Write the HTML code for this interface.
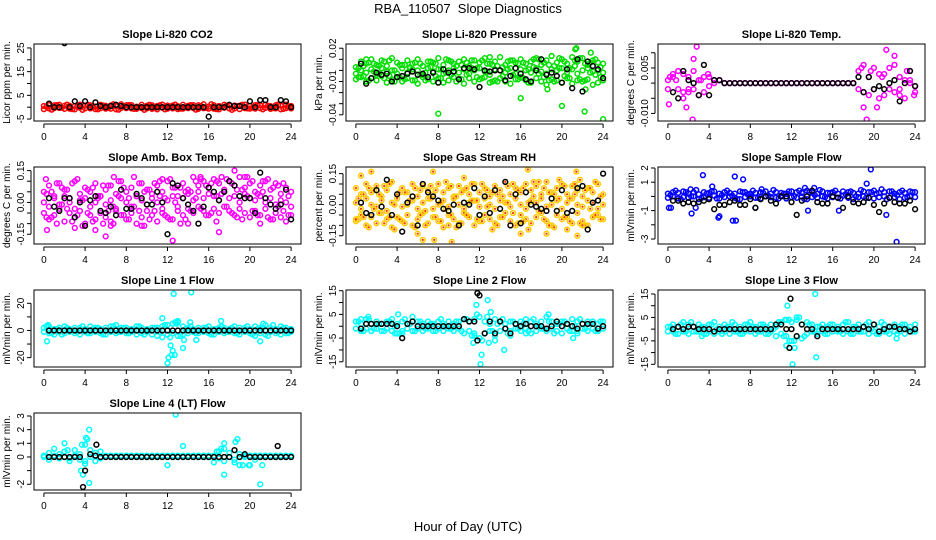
<!DOCTYPE html>
<html><head><meta charset="utf-8"><title>RBA_110507 Slope Diagnostics</title>
<style>
html,body{margin:0;padding:0;background:#fff;}
svg{display:block;font-family:"Liberation Sans",sans-serif;}
</style></head>
<body>
<svg id="chart" width="936" height="540" viewBox="0 0 936 540" xmlns="http://www.w3.org/2000/svg">
<rect x="0" y="0" width="936" height="540" fill="#fff"/>
<text x="468" y="13" text-anchor="middle" font-size="13">RBA_110507&#160;&#160;Slope Diagnostics</text>
<text x="468" y="531" text-anchor="middle" font-size="13">Hour of Day (UTC)</text>
</svg>
<script>
// ---- data (hours on x) ----
const xTicks = [0,4,8,12,16,20,24];
const titles = ["Slope Li-820 CO2","Slope Li-820 Pressure","Slope Li-820 Temp.","Slope Amb. Box Temp.","Slope Gas Stream RH","Slope Sample Flow","Slope Line 1 Flow","Slope Line 2 Flow","Slope Line 3 Flow","Slope Line 4 (LT) Flow"];
const yLabels = ["Licor ppm per min.","kPa per min.","degrees C per min.","degrees C per min.","percent per min.","mlVmin per min.","mlVmin per min.","mlVmin per min.","mlVmin per min.","mlVmin per min."];

const co2A = [0.5,-0.5,0.8,-0.3,0.6,-0.6,0.4,-0.2,0.7,-0.5,0.3,-0.4,0.6,-0.6,0.5,-0.3,0.8,-0.5,0.2,-0.4,0.6,-0.7,0.5,-0.2,0.7,-0.5,0.4,-0.6,0.6,-0.3,0.8,-0.4,0.3,-0.6,0.5,-0.2,0.7,-0.5,0.6,-0.4,0.5,-0.6,0.8,-0.3,0.4,-0.5,0.7,-0.4,0.5];
const co2B = [-0.8,0.9,-0.4,1.0,-0.7,0.6,-0.9,1.1,-0.5,0.8,-0.8,1.0,-0.6,0.7,-0.9,1.2,-0.4,0.9,-0.7,1.0,-0.5,0.8,-0.9,1.1,-0.6,0.7,-0.8,1.0,-0.4,0.9,-0.7,1.2,-0.6,0.8,-0.9,1.0,-0.5,0.7,-0.8,1.1,-0.6,0.9,-0.4,1.0,-0.7,0.8,-0.9,1.1,-0.5];
const co2D = [0.2,-1.0,0.9,-0.2,1.1,-0.8,0.3,-1.1,1.0,0.0,-0.9,0.7,-0.3,1.2,-1.0,0.4,0.9,-0.7,0.1,-1.1,1.0,-0.4,0.8,-0.9,0.2,1.1,-0.6,-0.1,0.9,-1.0,0.5,-0.3,1.2,-0.8,0.0,0.7,-1.1,0.4,1.0,-0.5,-0.2,0.9,-0.9,0.6,-0.4,1.1,-0.7,0.3];
const co2Black = [1.5,0,0,27,0,2.5,0.5,2.5,0,2,0.5,0,0.5,1,0.5,0, 0,0,0,0,0,0,0,0,0,0,0,0,0,0,0, -4,0,0,0,1,0.5,0.5,0,2.5,0,3,3,0,0,3,2.5,0];

const prA = [0.003,0.008,0.006,0.010,0.005,0.009,0.004,0.011,0.007,0.005,0.009,0.006,0.010,0.004,0.008,0.007,0.011,0.005,0.009,0.006,0.008,0.010,0.004,0.009,0.007,0.011,0.006,0.008,0.012,0.005,0.009,0.007,0.010,0.006,0.008,0.011,0.005,0.009,0.013,0.007,0.010,0.006,0.012,0.008,0.011,0.005,0.009,0.007,0.006];
const prB = [-0.003,0.000,-0.002,0.001,-0.004,0.002,-0.001,0.000,-0.003,0.002,-0.002,0.001,0.000,-0.004,0.002,-0.001,0.001,-0.003,0.000,0.002,-0.002,0.001,-0.003,0.000,0.002,-0.001,-0.004,0.001,0.000,-0.002,0.002,-0.003,0.001,0.000,-0.002,0.002,-0.001,-0.003,0.001,0.000,0.002,-0.002,0.001,-0.003,0.000,0.002,-0.001,0.000,-0.002];
const prC = [-0.008,-0.006,-0.010,-0.007,-0.009,-0.005,-0.011,-0.008,-0.006,-0.010,-0.007,-0.009,-0.012,-0.006,-0.008,-0.010,-0.007,-0.011,-0.009,-0.006,-0.008,-0.012,-0.007,-0.010,-0.008,-0.006,-0.011,-0.009,-0.007,-0.010,-0.012,-0.008,-0.006,-0.009,-0.011,-0.007,-0.010,-0.013,-0.008,-0.009,-0.011,-0.007,-0.012,-0.009,-0.010,-0.008,-0.013,-0.011,-0.009];
const prD = [0.002,-0.005,0.007,-0.001,0.004,-0.007,0.009,0.000,-0.006,0.005,0.003,-0.009,0.006,-0.002,0.008,-0.005,0.001,0.010,-0.004,0.004,-0.008,0.007,0.002,-0.006,0.009,-0.001,0.005,-0.010,0.003,0.008,-0.004,0.006,-0.007,0.001,0.010,-0.003,0.007,-0.009,0.004,0.011,-0.005,0.002,0.009,-0.008,0.006,-0.002,0.010,-0.006];
const prE = [-0.006,0.004,-0.009,0.006,-0.003,0.008,-0.005,-0.010,0.005,-0.008,0.002,0.007,-0.004,-0.009,0.003,0.006,-0.007,-0.002,0.008,-0.010,0.005,-0.004,0.009,0.002,-0.007,0.006,-0.010,0.004,-0.005,0.001,0.009,-0.008,0.007,-0.011,0.003,0.010,-0.006,0.005,-0.010,0.002,0.008,-0.007,0.004,0.011,-0.009,0.007,-0.004,0.003];
const prOut = [[8,-0.039],[16,-0.025],[20,-0.032],[22.2,-0.037],[24,-0.044],[21.3,0.019],[21.4,0.020],[22.8,0.016],[18.6,-0.017],[22.3,-0.017],[1,0.01],[13,0.012]];
const prBlack = [0.006,-0.012,-0.007,-0.002,-0.004,-0.003,-0.010,-0.006,-0.005,-0.003,-0.001,-0.004,-0.003,-0.006,-0.002,-0.011,0.001,-0.002,-0.001,-0.008,0.002,0.002,0.001,-0.015,0.000,-0.001,0.000,0.000,-0.009,-0.005,0.002,-0.003,-0.008,-0.010,0.000,0.010,-0.004,-0.002,-0.005,-0.011,0.001,-0.016,0.010,-0.019,0.008,0.004,0.001,-0.007];

const tA = [0.001,0.002,-0.002,0.003,-0.003,0.004,-0.004,0.002,-0.001,0.001,0.001, 0,0,0,0,0,0,0,0,0,0,0,0,0,0,0,0,0,0,0,0,0,0,0,0,0,0, 0.004,-0.003,0.002,0.005,-0.005,0.003,-0.002,0.006,-0.004,0.001,0.004,-0.003];
const tB = [-0.002,0.003,0.004,-0.003,0.002,-0.002,0.001,-0.003,0.002,0.000,0.001, 0,0,0,0,0,0,0,0,0,0,0,0,0,0,0,0,0,0,0,0,0,0,0,0,0,0, -0.002,0.006,-0.004,-0.002,0.003,-0.004,0.005,-0.003,0.002,-0.005,0.000,-0.001];
const tOut = [[0.1,-0.007],[1.8,-0.008],[2.5,0.008],[2.8,0.012],[2.4,-0.012],[3.9,0.003],[18.8,0.005],[19.3,-0.012],[19.7,0.004],[21.2,0.011],[22,0.009],[20.3,-0.008],[23.2,0.004],[23.9,-0.004],[0.2,0.002],[1.5,-0.005],[19,-0.008],[0.8,0.001],[2,-0.002],[3.2,0.001],[20.8,0.002],[22.5,-0.002],[23.5,0.001]];
const tBlack = [-0.003,-0.005,0.004,0.001,0.000,-0.004,0.006,-0.004,0.001,0.001, 0,0,0,0,0,0,0,0,0,0,0,0,0,0,0,0,0,0,0,0,0,0,0,0,0,0, 0.002,-0.003,0.002,-0.002,-0.001,-0.002,0.000,0.001,-0.006,0.000,0.004,-0.001];

const abA = [0.05,0.08,0.03,0.09,0.06,0.02,0.10,0.04,0.07,0.05,0.09,0.03,0.06,0.08,0.04,0.10,0.05,0.07,0.03,0.09,0.06,0.04,0.08,0.05,0.10,0.07,0.03,0.09,0.06,0.12,0.08,0.10,0.07,0.11,0.09,0.06,0.10,0.08,0.12,0.07,0.09,0.05,0.08,0.10,0.06,0.09,0.04,0.07,0.05];
const abB = [0.00,-0.02,0.02,-0.01,0.03,0.00,-0.03,0.01,0.02,-0.02,0.00,0.03,-0.01,0.01,-0.03,0.02,0.00,-0.02,0.03,0.01,-0.01,0.02,0.00,-0.03,0.01,0.03,-0.02,0.02,0.04,0.01,0.05,0.02,0.04,0.03,0.01,0.05,0.02,0.03,0.00,0.04,0.02,0.01,0.03,0.00,0.02,-0.01,0.01,0.00,-0.02];
const abC = [-0.05,-0.08,-0.06,-0.03,-0.09,-0.05,-0.07,-0.04,-0.10,-0.06,-0.08,-0.05,-0.07,-0.09,-0.04,-0.06,-0.08,-0.05,-0.10,-0.07,-0.04,-0.06,-0.09,-0.05,-0.07,-0.08,-0.04,-0.06,-0.03,-0.05,-0.02,-0.04,-0.06,-0.03,-0.05,-0.02,-0.04,-0.06,-0.03,-0.05,-0.07,-0.04,-0.06,-0.03,-0.08,-0.05,-0.07,-0.09,-0.06];
const abD = [0.04,-0.07,0.09,-0.01,0.06,-0.09,0.11,0.01,-0.05,0.07,0.03,-0.10,0.08,-0.02,0.10,-0.06,0.02,0.12,-0.04,0.05,-0.08,0.09,0.03,-0.06,0.11,0.00,0.07,-0.08,0.05,0.10,-0.03,0.08,-0.05,0.03,0.12,-0.02,0.09,-0.07,0.06,0.12,-0.04,0.04,0.10,-0.07,0.07,-0.02,0.09,-0.06];
const abE = [-0.07,0.05,-0.10,0.07,-0.03,0.09,-0.06,-0.11,0.06,-0.09,0.02,0.08,-0.04,-0.10,0.03,0.07,-0.08,-0.02,0.09,-0.11,0.06,-0.04,0.10,0.02,-0.08,0.07,-0.10,0.05,-0.04,0.02,0.11,-0.06,0.09,-0.09,0.04,0.11,-0.05,0.06,-0.08,0.03,0.10,-0.06,0.05,0.11,-0.08,0.08,-0.04,0.03];
const abOut = [[0.2,0.11],[0.3,-0.13],[3,-0.12],[5,-0.13],[6,-0.16],[6.8,0.12],[9.5,-0.11],[11.5,0.11],[12.5,-0.18],[17,-0.14],[18.5,0.15],[21,-0.10],[6.5,-0.11],[14,-0.1],[15.2,0.12],[16.8,0.1],[19.5,0.12]];
const abBlack = [0.02,-0.02,-0.04,0.02,0.02,-0.07,0.00,-0.11,0.01,0.03,-0.04,-0.05,-0.02,-0.06,0.06,-0.03,-0.03,0.04,0.02,-0.01,-0.01,0.05,0.00,-0.15,0.09,0.08,0.02,-0.01,-0.04,-0.10,-0.02,0.07,0.05,0.01,0.05,0.10,0.08,0.03,0.02,0.02,-0.05,0.14,0.02,-0.01,-0.03,-0.01,0.06,-0.08];

const rhA = [0.08,0.05,0.10,0.06,0.09,0.04,0.07,0.11,0.05,0.08,0.06,0.10,0.04,0.09,0.07,0.05,0.10,0.06,0.08,0.04,0.09,0.07,0.05,0.10,0.06,0.08,0.04,0.09,0.07,0.11,0.05,0.08,0.06,0.10,0.07,0.09,0.05,0.11,0.06,0.08,0.10,0.05,0.09,0.07,0.04,0.08,0.06,0.10,0.05];
const rhB = [0.01,-0.02,0.03,0.00,-0.01,0.02,-0.03,0.01,0.03,-0.01,0.00,0.02,-0.02,0.01,0.03,-0.02,0.00,0.02,-0.01,0.03,0.00,-0.02,0.01,0.02,-0.01,0.03,0.00,-0.02,0.02,0.01,-0.01,0.03,0.00,-0.02,0.02,0.01,0.03,-0.01,0.00,0.02,-0.02,0.01,0.03,0.00,-0.01,0.02,0.01,-0.02,0.00];
const rhC = [-0.08,-0.05,-0.10,-0.06,-0.09,-0.04,-0.07,-0.11,-0.06,-0.08,-0.05,-0.10,-0.07,-0.04,-0.09,-0.06,-0.08,-0.11,-0.05,-0.07,-0.09,-0.04,-0.06,-0.10,-0.08,-0.05,-0.07,-0.09,-0.06,-0.04,-0.08,-0.10,-0.05,-0.07,-0.09,-0.06,-0.04,-0.08,-0.10,-0.05,-0.07,-0.06,-0.09,-0.04,-0.08,-0.10,-0.06,-0.05,-0.07];
const rhD = [0.03,-0.06,0.08,-0.02,0.05,-0.09,0.10,0.00,-0.07,0.06,0.02,-0.11,0.07,-0.03,0.09,-0.06,0.01,0.11,-0.05,0.04,-0.09,0.08,0.02,-0.07,0.10,-0.01,0.06,-0.10,0.04,0.09,-0.04,0.07,-0.08,0.01,0.11,-0.03,0.08,-0.10,0.05,0.12,-0.06,0.03,0.10,-0.09,0.07,-0.02,0.11,-0.07];
const rhE = [-0.07,0.05,-0.11,0.07,-0.04,0.09,-0.06,-0.12,0.06,-0.09,0.02,0.08,-0.05,-0.10,0.03,0.07,-0.08,-0.02,0.09,-0.11,0.06,-0.05,0.10,0.02,-0.08,0.07,-0.12,0.05,-0.06,0.01,0.10,-0.09,0.08,-0.12,0.04,0.11,-0.07,0.06,-0.11,0.03,0.09,-0.08,0.05,0.12,-0.10,0.08,-0.05,0.04];
const rhOut = [[0.5,0.14],[1.5,0.16],[7.5,0.16],[6,-0.14],[6.5,-0.17],[7.6,-0.17],[9.3,-0.18],[10.5,0.13],[16.7,0.17],[16,-0.14],[18.5,-0.14],[20.5,-0.12],[21.4,0.16],[21.5,-0.15],[22,-0.1],[0,-0.07],[9,-0.1]];
const rhBlack = [0.01,-0.04,-0.05,0.07,-0.01,0.12,-0.05,0.05,-0.13,0.01,0.04,-0.10,0.10,0.06,0.04,0.02,-0.02,-0.03,0.00,-0.10,0.01,0.00,0.08,-0.05,0.04,-0.04,0.07,-0.02,0.11,-0.10,0.05,-0.09,0.06,0.00,-0.01,-0.02,-0.03,0.03,-0.03,0.07,-0.04,-0.03,0.08,0.09,-0.12,0.01,0.02,0.15];

const sfA = [0.2,0.3,0.25,0.35,0.2,0.3,0.15,0.3,0.25,0.35,0.2,0.3,0.25,0.2,0.35,0.3,0.2,0.25,0.3,0.35,0.2,0.3,0.25,0.2,0.35,0.3,0.25,0.4,0.3,0.2,0.35,0.25,0.3,0.2,0.35,0.3,0.25,0.2,0.35,0.3,0.4,0.25,0.3,0.35,0.2,0.3,0.25,0.35,0.3];
const sfB = [-0.1,0.0,-0.15,-0.05,-0.1,0.0,-0.2,-0.05,-0.1,0.05,-0.15,-0.05,0.0,-0.1,-0.2,-0.05,0.0,-0.1,-0.15,0.0,-0.05,-0.1,0.05,-0.15,-0.05,-0.1,0.0,-0.2,-0.05,-0.1,0.0,-0.15,-0.05,-0.1,0.05,-0.1,-0.2,-0.05,0.0,-0.1,-0.15,-0.05,0.0,-0.1,-0.05,-0.2,-0.1,0.0,-0.05];
const sfD = [0.1,0.4,-0.2,0.3,0.0,0.45,-0.1,0.2,0.35,-0.15,0.1,0.4,0.05,-0.2,0.3,0.15,0.4,-0.1,0.25,0.05,0.45,-0.15,0.2,0.35,0.0,0.4,-0.2,0.3,0.1,0.45,-0.05,0.25,0.4,-0.15,0.15,0.35,0.0,0.45,-0.1,0.3,0.2,0.5,-0.2,0.35,0.1,0.4,-0.05,0.3];
const sfOut = [[0.1,-0.8],[0.3,-0.8],[2.3,-1.2],[2.7,-0.8],[2.2,0.5],[3.4,1.5],[4.3,0.7],[4.9,-1.5],[5,-1.4],[6.3,-1.7],[6.6,-1.7],[6.5,1.4],[7.3,1.2],[9.1,0.5],[13.3,0.6],[14.2,0.6],[13.6,-1.0],[16.6,-1.0],[19.3,0.9],[19.7,1.9],[21.2,-1.3],[22.2,-3.2],[8.5,-0.8]];
const sfBlack = [-0.3,-0.3,-0.5,-0.4,-0.5,-0.4,-0.3,-0.2,-0.9,-0.6,-0.6,-0.4,-0.3,-0.6,-0.6,-0.2,-0.8,-0.2,0.0,-0.3,-0.5,0.0,0.0,-0.4,-1.3,-0.3,0.0,0.4,-0.4,-0.5,-0.5,0.0,-0.1,-0.8,0.0,-0.4,-0.5,-0.4,-0.1,-0.6,-1.1,-0.5,-0.1,-0.4,-0.5,-0.5,-0.3,-0.9];

const l1A = [2,3,1,2,3,1,2,2,1,3,2,1,2,3,1,2,2,1,3,2,1,2,2,3,4,5,6,3,2,1,2,2,3,1,2,2,1,3,2,2,1,3,2,4,2,1,3,2,1];
const l1B = [-1,-2,-3,-1,-2,-1,-2,-3,-1,-2,-1,-2,-3,-1,-2,-1,-2,-1,-3,-2,-1,-3,-4,-5,-3,-2,-4,-3,-2,-1,-2,-1,-2,-3,-1,-2,-1,-2,-3,-1,-2,-4,-2,-3,-1,-2,-3,-2,-1];
const l1D = [3,-2,1,-3,2,0,-1,3,-2,1,2,-3,0,3,-1,2,-2,1,3,-3,0,2,-1,4,-5,6,-4,1,3,-2,0,2,-3,1,3,-1,2,-2,0,3,-3,1,2,-4,4,-1,2,-2];
const l1Out = [[0.3,-8],[0.4,4],[7,4],[11.5,9],[12.6,27],[14.3,28],[12.1,-20],[12,-24],[12.4,-18],[12.7,-18],[12.3,-11],[13.5,-13],[13.6,-7],[14.8,-7],[13,7],[14.2,6],[17.2,7],[21,-8],[21.3,5],[12.5,-15],[12.9,5]];
const l1Black = [0,0,0,0,0,0,0,0,0,0,0,0,0,0,0,0,0,0,0,0,0,0,0,0,0,0,0,0,0,0,0,0,0,0,0,0,0,0,0,0,0,0,0,0,0,0,0,0];

const l2A = [2,1,3,1,2,1,2,3,1,2,1,4,2,1,2,1,2,1,2,1,2,3,2,3,4,2,1,3,2,1,2,1,2,3,2,1,2,4,2,1,2,1,3,2,1,2,2,1,2];
const l2B = [-1,-2,-1,-2,-1,-2,-1,-2,-3,-2,-1,-2,-1,-2,-1,-2,-1,-2,-1,-2,-1,-3,-2,-4,-5,-3,-2,-4,-2,-1,-2,-1,-2,-1,-3,-2,-1,-2,-1,-2,-3,-1,-2,-2,-1,-2,-1,-2,-1];
const l2D = [2,-2,3,-1,1,-2,2,0,-3,3,1,-2,2,-1,1,-2,3,0,-1,2,-2,3,-4,5,-6,4,-2,1,3,-3,2,-1,1,-2,3,0,-1,2,-3,1,2,-2,0,3,-1,1,-2,2];
const l2Out = [[0.5,3],[1.2,4],[4.1,5],[4.5,-3],[11.7,9],[12.8,11],[12.2,-12],[12.1,-16],[11.4,-7],[12.9,-7],[13.5,-6],[14.4,-10],[15,-4],[18.7,5],[21.1,-5],[21.5,-3],[11.5,-3],[13.1,6],[3.8,-3],[16.5,-3]];
const l2Black = [-1,1,1,1,1,1,1,0,-5,1,2,0,0,0,0,0,0,0,0,0,3,2,2,13,-3,2,-3,2,-1,-3,1,0,1,0,0,0,-1,0,2,0,1,0,-1,1,1,1,-1,0];
const l2BlackOut = [[11.8,14],[11.8,-6]];

const l3A = [1,2,1,3,2,1,2,1,2,3,1,2,1,2,1,2,3,1,2,1,2,1,3,4,3,5,2,3,2,1,2,1,2,1,2,3,1,2,1,3,2,1,2,1,2,1,2,1,2];
const l3B = [-1,-1,-2,-1,-2,-1,-1,-2,-1,-2,-1,-1,-2,-1,-2,-1,-1,-2,-1,-2,-1,-3,-2,-3,-5,-3,-4,-2,-1,-2,-1,-2,-1,-1,-2,-1,-2,-1,-1,-2,-1,-2,-1,-2,-1,-1,-2,-1,-1];
const l3D = [1,-2,2,-1,3,-1,1,-2,2,0,-2,1,3,-1,-2,2,1,-1,2,-2,0,3,-3,4,-5,5,-3,2,-1,1,-2,2,0,-1,3,-2,1,-1,2,0,-2,3,-1,1,-2,2,0,-1];
const l3Out = [[11.6,10],[14.3,15],[12.1,-15],[14.4,-12],[11.5,-7],[12.3,-8],[11.8,-5],[3.3,-3],[22.2,-4],[12.5,4],[11.4,4]];
const l3Black = [0,1,0,1,1,0,0,0,-1,0,0,0,0,0,0,0,0,0,0,0,2,2,0,0,-3,2,0,0,-3,0,0,0,0,0,0,0,0,1,0,2,-1,0,1,1,0,0,-1,0];
const l3BlackOut = [[11.9,13],[11.8,-8]];

const l4A = [0.1,0.3,0.6,0.2,0.4,-0.1,0.5,0.2,-0.3,0.5,0.3,0.4,0.1,0.1,0.1,0.1,0.1,0.1,0.1,0.1,0.1,0.1,0.1,0.1,0.1,0.1,0.1,0.1,0.1,0.1,0.1,0.1,0.1,0.1,0.4,0.6,0.3,-0.2,0.2,0.1,0.1,0.1,0.1,0.1,0.1,0.1,0.1,0.1,0.1];
const l4B = [0.0,-0.2,0.1,-0.1,0.0,-0.3,0.1,-0.2,-0.5,0.0,-0.3,-0.1,0.0,0.0,0.0,0.0,0.0,0.0,0.0,0.0,0.0,0.0,0.0,0.0,0.0,0.0,0.0,0.0,0.0,0.0,0.0,0.0,0.0,-0.4,-0.1,-0.3,0.0,-0.4,-0.6,0.0,-0.6,-0.2,0.0,0.0,0.0,0.0,0.0,0.0,0.0];
const l4Out = [[2,1],[2.3,0.5],[3.6,-1],[3.7,0.9],[3.8,-1.3],[4.1,1.4],[4.2,1.3],[4.4,2],[4.4,-1.9],[4,0.9],[12,-0.6],[12.8,3.1],[13.5,0.8],[16.8,0.4],[17.2,0.6],[17.5,1],[17.5,-1.3],[18.6,1.1],[18.8,1.3],[19.3,-0.6],[19.9,-0.6],[21,-2],[21.2,-0.6]];
const l4Black = [0,0,0,0,0,0,0,-1,0.2,0.1,0,0,0,0,0,0,0,0,0,0,0,0,0,0,0,0,0,0,0,0,0,0,0,0,0,0,0.5,0,0.2,0,0,0,0,0,0,0,0,0];
const l4BlackOut = [[3.8,-2.2],[5.1,0.9],[22.7,0.8]];

// y-axis ticks and labels
const yTicks = [[-5,0,5,10,15,20,25],[0.02,0.01,0,-0.01,-0.02,-0.03,-0.04],[0.01,0.005,0,-0.005,-0.01],[0.15,0.1,0.05,0,-0.05,-0.1,-0.15],[0.15,0.1,0.05,0,-0.05,-0.1,-0.15],[2,1,0,-1,-2,-3],[20,10,0,-10,-20],[15,10,5,0,-5,-10,-15],[15,10,5,0,-5,-10,-15],[3,2,1,0,-1,-2]];
const yTickLabels = [["-5","","5","","15","","25"],["0.02","","","-0.01","","","-0.04"],["","0.005","","","-0.010"],["0.15","","","0.00","","","-0.15"],["0.15","","","0.00","","","-0.15"],["2","1","","-1","","-3"],["20","","0","","-20"],["15","","5","","-5","","-15"],["15","","5","","-5","","-15"],["3","2","1","0","","-2"]];
const yDomains = [[-5.83,26.67],[-0.0456,0.0238],[-0.0125,0.0129],[-0.196,0.167],[-0.190,0.182],[-3.35,2.07],[-26.9,29.8],[-17.2,15.3],[-16.15,16.7],[-2.42,3.22]];

// ---- drawing ----
const NS = "http://www.w3.org/2000/svg";
const svg = document.getElementById("chart");
const colLeft = [34,346,658], rowTop = [44,167,290,413], W = 267, H = 77;
// series: [values, first hour, last hour]
const panels = [
 {col:"#ff0000", series:[[co2A,0,24],[co2B,0,24],[co2D,0.25,23.75]], out:[], black:co2Black, bOut:[]},
 {col:"#00dd00", series:[[prA,0,24],[prB,0,24],[prC,0,24],[prD,0.25,23.75],[prE,0.25,23.75]], out:prOut, black:prBlack, bOut:[]},
 {col:"#ff00ff", series:[[tA,0,24],[tB,0,24]], out:tOut, black:tBlack, bOut:[]},
 {col:"#ff00ff", series:[[abA,0,24],[abB,0,24],[abC,0,24],[abD,0.25,23.75],[abE,0.25,23.75]], out:abOut, black:abBlack, bOut:[]},
 {col:"#ffcc00", inner:"#ff3300", series:[[rhA,0,24],[rhB,0,24],[rhC,0,24],[rhD,0.25,23.75],[rhE,0.25,23.75]], out:rhOut, black:rhBlack, bOut:[]},
 {col:"#0000ff", series:[[sfA,0,24],[sfB,0,24],[sfD,0.25,23.75]], out:sfOut, black:sfBlack, bOut:[]},
 {col:"#00ffff", series:[[l1A,0,24],[l1B,0,24],[l1D,0.25,23.75]], out:l1Out, black:l1Black, bOut:[]},
 {col:"#00ffff", series:[[l2A,0,24],[l2B,0,24],[l2D,0.25,23.75]], out:l2Out, black:l2Black, bOut:l2BlackOut},
 {col:"#00ffff", series:[[l3A,0,24],[l3B,0,24],[l3D,0.25,23.75]], out:l3Out, black:l3Black, bOut:l3BlackOut},
 {col:"#00ffff", series:[[l4A,0,24],[l4B,0,24]], out:l4Out, black:l4Black, bOut:l4BlackOut}
];
function mk(tag, attrs, parent){const e=document.createElementNS(NS,tag);for(const k in attrs)e.setAttribute(k,attrs[k]);(parent||svg).appendChild(e);return e;}
function slug(s){return s.toLowerCase().replace(/[^a-z0-9]+/g,'-').replace(/^-|-$/g,'');}

panels.forEach((p,i)=>{
  const L = colLeft[i%3], T = rowTop[Math.floor(i/3)];
  const [lo,hi] = yDomains[i];
  const xS = h => L + (h + 0.96) / 25.92 * W;
  const yS = v => T + H - (v - lo) / (hi - lo) * H;
  const g = mk("g",{});
  
  
  const t = mk("text",{x:L+W/2,y:T-6,"text-anchor":"middle","font-size":"11","font-weight":"bold"},g);
  t.textContent = titles[i];
  
  
  const clip = mk("clipPath",{id:"c"+i},g);
  mk("rect",{x:L,y:T,width:W,height:H},clip);
  const marks = mk("g",{"clip-path":"url(#c"+i+")"},g);
  
  
  function dot(h,v,stroke,inner){
    const c = mk("circle",{cx:xS(h).toFixed(1),cy:yS(v).toFixed(1),r:"2.4",fill:"none",stroke:stroke,"stroke-width":"1.5"},marks);
    
    
    if(inner) mk("circle",{cx:xS(h).toFixed(1),cy:yS(v).toFixed(1),r:"1.1",fill:inner},marks);
  }
  p.series.forEach(([s,a,b])=>s.forEach((v,k)=>dot(a+k*(b-a)/(s.length-1),v,p.col,p.inner)));
  p.out.forEach(o=>dot(o[0],o[1],p.col,p.inner));
  p.black.forEach((v,k)=>dot(0.5+k*23.5/(p.black.length-1),v,"#000"));
  p.bOut.forEach(o=>dot(o[0],o[1],"#000"));
  const box = mk("rect",{x:L,y:T,width:W,height:H,fill:"none",stroke:"#000","stroke-width":"1"},g);
  
  
  const xa = mk("g",{},g);
  
  
  mk("line",{x1:xS(0),x2:xS(24),y1:T+H+3,y2:T+H+3,stroke:"#000"},xa);
  xTicks.forEach(h=>{
    mk("line",{x1:xS(h),x2:xS(h),y1:T+H+3,y2:T+H+7,stroke:"#000"},xa);
    const tl = mk("text",{x:xS(h),y:T+H+19,"text-anchor":"middle","font-size":"10"},xa);
    tl.textContent = h;
    
    
  });
  const ya = mk("g",{},g);
  
  
  const tk = yTicks[i];
  mk("line",{x1:L-3,x2:L-3,y1:yS(Math.max(...tk)),y2:yS(Math.min(...tk)),stroke:"#000"},ya);
  tk.forEach((v,k)=>{
    mk("line",{x1:L-7,x2:L-3,y1:yS(v),y2:yS(v),stroke:"#000"},ya);
    if(yTickLabels[i][k]){
      const yl = mk("text",{x:0,y:0,"text-anchor":"middle","font-size":"10",transform:`translate(${L-10},${yS(v)}) rotate(-90)`},ya);
      yl.textContent = yTickLabels[i][k];
      
      
    }
  });
  const yt = mk("text",{x:0,y:0,"text-anchor":"middle","font-size":"10",transform:`translate(${L-24},${T+H/2}) rotate(-90)`},g);
  yt.textContent = yLabels[i];
  
  
});
</script>
</body></html>
